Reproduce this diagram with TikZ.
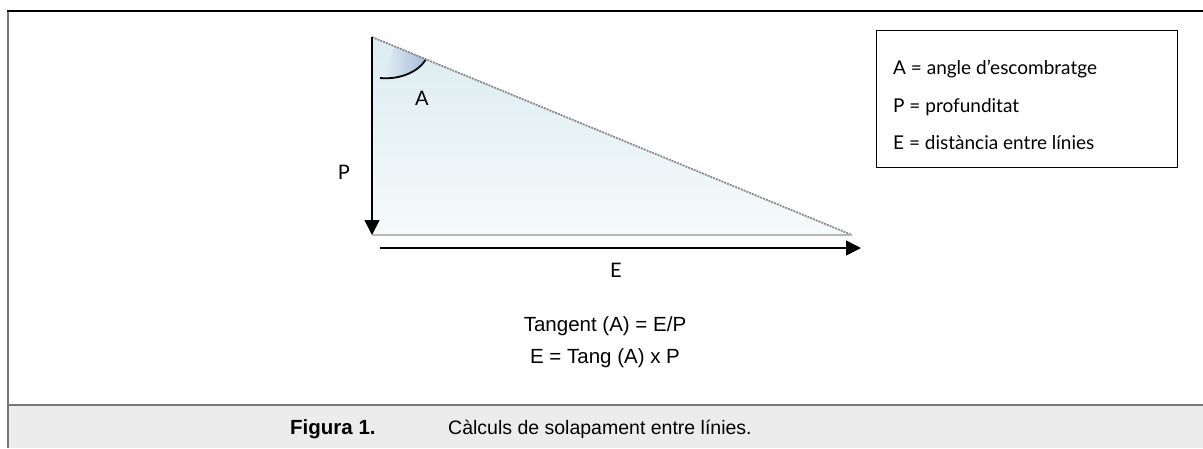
\documentclass[tikz,border=0pt]{standalone}
\usepackage{fontspec}
\setmainfont{Liberation Sans}
\newfontfamily\labfont{Lato}
\usetikzlibrary{arrows.meta}
\definecolor{framegray}{HTML}{777777}
\definecolor{capbg}{HTML}{ECECEC}
\definecolor{tritop}{HTML}{DCECF0}
\definecolor{tribot}{HTML}{F6FAFB}
\definecolor{wedgeL}{HTML}{EAF2F7}
\definecolor{wedgeR}{HTML}{A4BCDA}
\definecolor{hypgray}{HTML}{8A8A8A}
\tikzset{
  lab/.style={font=\labfont\fontsize{20}{24}\selectfont, inner sep=0pt},
  legtext/.style={font=\labfont\fontsize{19}{22}\selectfont, inner sep=0pt, anchor=west},
  formula/.style={font=\fontsize{20.5}{24}\selectfont, inner sep=0pt},
  captext/.style={font=\fontsize{19.5}{24}\selectfont, inner sep=0pt, anchor=base west},
  bigarrow/.style={line width=1.6pt, -{Triangle[length=15pt,width=15pt]}},
}
\begin{document}
\begin{tikzpicture}[x=1pt,y=-1pt]
\useasboundingbox (0,0) rectangle (1203,448);
% frame
\fill[capbg] (8,405) rectangle (1203,448);
\draw[framegray, line width=2pt] (8,405) -- (1203,405);
\draw[framegray, line width=2pt] (8,11) -- (8,448);
\draw[black, line width=2pt] (7,11) -- (1203,11);
% triangle
\coordinate (T) at (372,37);
\coordinate (R) at (852,235);
\coordinate (L) at (372,235);
\shade[top color=tritop, bottom color=tribot] (T) -- (R) -- (L) -- cycle;
% angle wedge
\coordinate (W1) at (395,46.5);
\coordinate (W2) at (426,59.3);
\coordinate (W3) at (380,78);
\shade[left color=wedgeL, right color=wedgeR] (W1) -- (W2) .. controls (419,71) and (401,80) .. (W3) -- cycle;
\draw[black, line width=1.8pt] (W2) .. controls (419,71) and (401,80) .. (W3);
% edges
\draw[hypgray, line width=1.8pt, dash pattern=on 2pt off 1pt] (T) -- (R);
\draw[black!28, line width=1.6pt] (L) -- (R);
\draw[bigarrow] (T) -- (L);
\coordinate (E1) at (380,248);
\coordinate (E2) at (861,248);
\draw[bigarrow] (E1) -- (E2);
% labels
\node[lab] (la) at (422,98) {A};
\node[lab] (lp) at (344,172) {P};
\node[lab] (le) at (616,270) {E};
% formulas
\node[formula] (f1) at (605,326) {Tangent (A) = E/P};
\node[formula] (f2) at (605,358) {E = Tang (A) x P};
% legend
\node[draw=black, line width=1pt, minimum width=301pt, minimum height=137pt, anchor=north west, inner sep=0pt] (leg) at (876,30) {};
\node[legtext] (l1) at (893,69) {A = angle d’escombratge};
\node[legtext] (l2) at (893,107) {P = profunditat};
\node[legtext] (l3) at (893,143) {E = distància entre línies};
% caption
\node[captext, font=\bfseries\fontsize{20.5}{24}\selectfont] (cap1) at (290,434) {Figura 1.};
\node[captext] (cap2) at (448,434) {Càlculs de solapament entre línies.};
\end{tikzpicture}
\end{document}
